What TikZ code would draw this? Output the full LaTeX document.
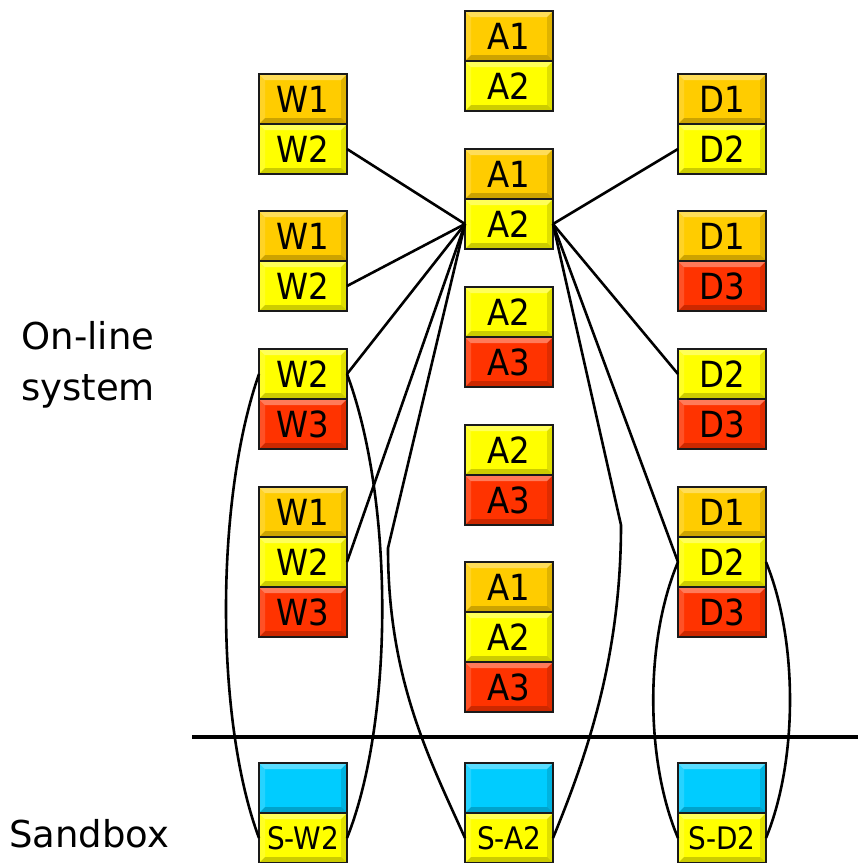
\documentclass[tikz,border=0pt]{standalone}
\usepackage{fontspec}
\setmainfont{DejaVu Sans}
\newfontfamily\boxfont{DejaVu Sans Condensed}
\usepackage{xcolor}
\usepackage{tikz}
\usetikzlibrary{positioning}
\definecolor{lvlorange}{HTML}{FFCC00}
\definecolor{lvlyellow}{HTML}{FFFF00}
\definecolor{lvlred}{HTML}{FF3300}
\definecolor{sandcyan}{HTML}{00CCFF}
\definecolor{edgegray}{HTML}{1A1A1A}

\begin{document}
\begin{tikzpicture}[x=1pt, y=-1pt,
            btn/.style={
            draw=edgegray,
            line width=2.8pt,
            minimum width=88pt,
            minimum height=50pt,
            inner sep=0pt,
            outer sep=0pt,
            font=\boxfont\fontsize{36}{40}\selectfont,
            path picture={
                \fill[white, opacity=.35] (path picture bounding box.north west) -- (path picture bounding box.north east)
                    -- ++(-6pt,-6pt) -- ([shift={(6pt,-6pt)}]path picture bounding box.north west) -- cycle;
                \fill[white, opacity=.15] (path picture bounding box.north west) -- (path picture bounding box.south west)
                    -- ++(6pt,6pt) -- ([shift={(6pt,-6pt)}]path picture bounding box.north west) -- cycle;
                \fill[black, opacity=.12] (path picture bounding box.north east) -- (path picture bounding box.south east)
                    -- ++(-6pt,6pt) -- ([shift={(-6pt,-6pt)}]path picture bounding box.north east) -- cycle;
                \fill[black, opacity=.2] (path picture bounding box.south west) -- (path picture bounding box.south east)
                    -- ++(-6pt,6pt) -- ([shift={(6pt,6pt)}]path picture bounding box.south west) -- cycle;
            }},
            one/.style={btn, fill=lvlorange},
            two/.style={btn, fill=lvlyellow},
            three/.style={btn, fill=lvlred},
            sand/.style={btn, fill=sandcyan},
            sname/.style={btn, fill=lvlyellow, font=\boxfont\fontsize{31}{36}\selectfont},
            lbl/.style={inner sep=0pt, align=center, font=\fontsize{37}{51}\selectfont},
            wire/.style={line width=2.6pt}]
            \useasboundingbox (0,0) rectangle (858,863);
            % W column
            \node[one] (w1a) at (303,99) {W1};
            \node[two, below=0pt of w1a] (w2a) {W2};
            \node[one] (w1b) at (303,236) {W1};
            \node[two, below=0pt of w1b] (w2b) {W2};
            \node[two] (w2c) at (303,374) {W2};
            \node[three, below=0pt of w2c] (w3c) {W3};
            \node[one] (w1d) at (303,512) {W1};
            \node[two, below=0pt of w1d] (w2d) {W2};
            \node[three, below=0pt of w2d] (w3d) {W3};
            % A column
            \node[one] (a1a) at (509,36) {A1};
            \node[two, below=0pt of a1a] (a2a) {A2};
            \node[one] (a1b) at (509,174) {A1};
            \node[two, below=0pt of a1b] (a2b) {A2};
            \node[two] (a2c) at (509,312) {A2};
            \node[three, below=0pt of a2c] (a3c) {A3};
            \node[two] (a2d) at (509,450) {A2};
            \node[three, below=0pt of a2d] (a3d) {A3};
            \node[one] (a1e) at (509,587) {A1};
            \node[two, below=0pt of a1e] (a2e) {A2};
            \node[three, below=0pt of a2e] (a3e) {A3};
            % D column
            \node[one] (d1a) at (722,99) {D1};
            \node[two, below=0pt of d1a] (d2a) {D2};
            \node[one] (d1b) at (722,236) {D1};
            \node[three, below=0pt of d1b] (d3b) {D3};
            \node[two] (d2c) at (722,374) {D2};
            \node[three, below=0pt of d2c] (d3c) {D3};
            \node[one] (d1d) at (722,512) {D1};
            \node[two, below=0pt of d1d] (d2d) {D2};
            \node[three, below=0pt of d2d] (d3d) {D3};
            % sandbox
            \node[sand] (sbw) at (303,788) {};
            \node[sname, below=0pt of sbw] (sw2) {S-W2};
            \node[sand] (sba) at (509,788) {};
            \node[sname, below=0pt of sba] (sa2) {S-A2};
            \node[sand] (sbd) at (722,788) {};
            \node[sname, below=0pt of sbd] (sd2) {S-D2};
            % labels
            \node[lbl] (online) at (88,365) {On-line\\system};
            \node[lbl, anchor=base] (sandbox) at (89,847) {Sandbox};
            \draw[line width=4pt] (192,737) -- (858,737);
            % links
            \coordinate (kinkl) at (388,548);
            \coordinate (kinkr) at (621,525);
            \draw[wire] (a2b.west) -- (w2a.east);
            \draw[wire] (a2b.west) -- (w2b.east);
            \draw[wire] (a2b.west) -- (w2c.east);
            \draw[wire] (a2b.west) -- (w2d.east);
            \draw[wire] (a2b.east) -- (d2a.west);
            \draw[wire] (a2b.east) -- (d2c.west);
            \draw[wire] (a2b.east) -- (d2d.west);
            \draw[wire] (a2b.west) -- (kinkl) .. controls (388,680) and (430,760) .. (sa2.west);
            \draw[wire] (a2b.east) -- (kinkr) .. controls (621,660) and (585,760) .. (sa2.east);
            \draw[wire] (w2c.west) .. controls (215,500) and (215,720) .. (sw2.west);
            \draw[wire] (w2c.east) .. controls (394,500) and (394,720) .. (sw2.east);
            \draw[wire] (d2d.west) .. controls (645,640) and (645,760) .. (sd2.west);
            \draw[wire] (d2d.east) .. controls (798,640) and (798,760) .. (sd2.east);
        \end{tikzpicture}
\end{document}
